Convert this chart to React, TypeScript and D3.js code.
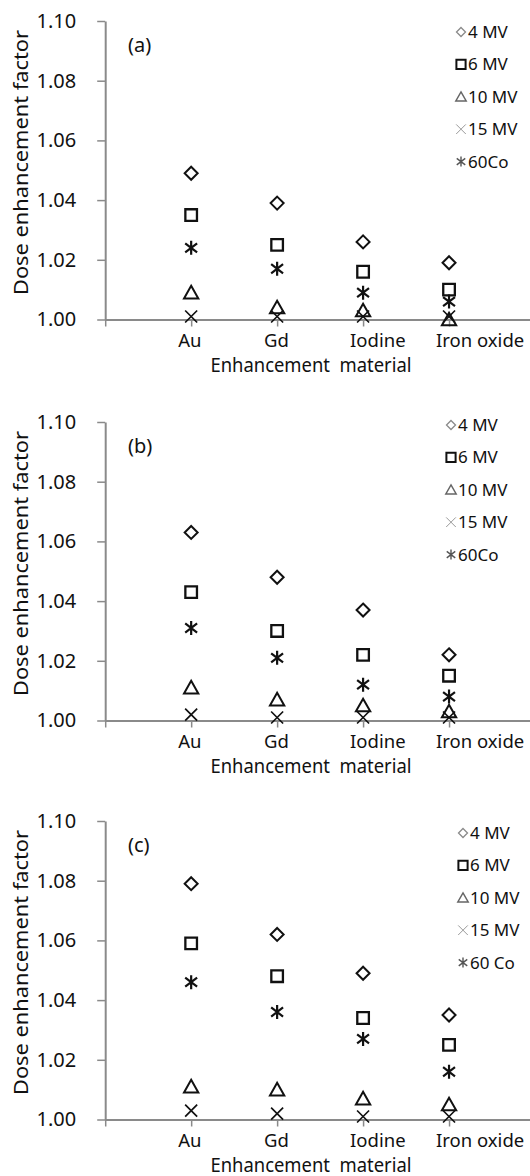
import { useEffect, useRef } from "react";
import * as d3 from "d3";

const categories = ["Au", "Gd", "Iodine", "Iron oxide"];
const yTicks = [1.0, 1.02, 1.04, 1.06, 1.08, 1.1];
const panelLabels = ["(a)", "(b)", "(c)"];
const legendAB = ["4 MV", "6 MV", "10 MV", "15 MV", "60Co"];
const legendC = ["4 MV", "6 MV", "10 MV", "15 MV", "60 Co"];

// panel (a)
const a4MV = [1.049, 1.039, 1.026, 1.019];
const a6MV = [1.035, 1.025, 1.016, 1.01];
const a10MV = [1.009, 1.004, 1.003, 1.0];
const a15MV = [1.001, 1.001, 1.001, 1.001];
const aCo60 = [1.024, 1.017, 1.009, 1.006];

// panel (b)
const b4MV = [1.063, 1.048, 1.037, 1.022];
const b6MV = [1.043, 1.03, 1.022, 1.015];
const b10MV = [1.011, 1.007, 1.005, 1.003];
const b15MV = [1.002, 1.001, 1.001, 1.001];
const bCo60 = [1.031, 1.021, 1.012, 1.008];

// panel (c)
const c4MV = [1.079, 1.062, 1.049, 1.035];
const c6MV = [1.059, 1.048, 1.034, 1.025];
const c10MV = [1.011, 1.01, 1.007, 1.005];
const c15MV = [1.003, 1.002, 1.001, 1.001];
const cCo60 = [1.046, 1.036, 1.027, 1.016];

const shapes = ["diamond", "square", "triangle", "x", "star"];

function symbolPath(type, r) {
  switch (type) {
    case "diamond":
      return `M0,${-r}L${r},0L0,${r}L${-r},0Z`;
    case "square":
      return `M${-r},${-r}h${2 * r}v${2 * r}h${-2 * r}Z`;
    case "triangle":
      return `M0,${-r}L${r * 1.05},${r * 0.85}L${-r * 1.05},${r * 0.85}Z`;
    case "x":
      return `M${-r},${-r}L${r},${r}M${-r},${r}L${r},${-r}`;
    default:
      return `M${-r * 0.85},${-r * 0.65}L${r * 0.85},${r * 0.65}M${-r * 0.85},${r * 0.65}L${r * 0.85},${-r * 0.65}M0,${-r}V${r}`;
  }
}

const plotSize = { diamond: 6.5, square: 5.8, triangle: 6.8, x: 6, star: 7 };
const plotStroke = { diamond: 2, square: 2.3, triangle: 2, x: 1.7, star: 2.2 };
const legendSize = { diamond: 4.5, square: 4.6, triangle: 5, x: 4.8, star: 5 };
const legendStroke = { diamond: 1.3, square: 2, triangle: 1.4, x: 1, star: 1.4 };
const legendColor = { diamond: "#8a8a8a", square: "#111", triangle: "#666", x: "#9a9a9a", star: "#555" };

export default function App() {
  const svgRef = useRef(null);

  useEffect(() => {
    const width = 530;
    const height = 1176;
    const svg = d3.select(svgRef.current).attr("width", width).attr("height", height);
    svg.selectAll("*").remove();

    const font = "'Noto Sans', 'DejaVu Sans', sans-serif";
    const axisColor = "#8a8a8a";
    const textColor = "#111";

    const panels = [
      { series: [a4MV, a6MV, a10MV, a15MV, aCo60], legend: legendAB, top: 0, legendX: 461, legendY: 32 },
      { series: [b4MV, b6MV, b10MV, b15MV, bCo60], legend: legendAB, top: 401, legendX: 451, legendY: 24 },
      { series: [c4MV, c6MV, c10MV, c15MV, cCo60], legend: legendC, top: 800, legendX: 463, legendY: 33 },
    ];

    const x = d3.scaleLinear().domain([0, 5]).range([105.2, 535]);
    const y = d3.scaleLinear().domain([1.0, 1.1]).range([319.5, 21]);

    panels.forEach((p, pi) => {
      const g = svg.append("g").attr("transform", `translate(0,${p.top})`);

      // y axis
      const yAxis = g
        .append("g")
        .attr("transform", `translate(${x(0)},0)`)
        .call(
          d3
            .axisLeft(y)
            .tickValues(yTicks)
            .tickFormat(d3.format(".2f"))
            .tickSize(8)
            .tickSizeOuter(0)
            .tickPadding(21)
        );
      yAxis.select(".domain").attr("stroke", axisColor).attr("stroke-width", 2);
      yAxis.selectAll(".tick line").attr("stroke", axisColor).attr("stroke-width", 1.5);
      yAxis
        .selectAll(".tick text")
        .attr("fill", textColor)
        .style("font-family", font)
        .style("font-size", "20px");

      // x axis
      const xAxis = g
        .append("g")
        .attr("transform", `translate(0,${y(1.0)})`)
        .call(
          d3
            .axisBottom(x)
            .tickValues([0, 1, 2, 3, 4])
            .tickFormat(() => "")
            .tickSize(7)
            .tickSizeOuter(0)
        );
      xAxis.select(".domain").attr("stroke", axisColor).attr("stroke-width", 2);
      xAxis.selectAll(".tick line").attr("stroke", axisColor).attr("stroke-width", 1.5);

      // category labels
      g.selectAll(".cat")
        .data(categories)
        .enter()
        .append("text")
        .attr("x", (d, i) => x(i + 1) - 13)
        .attr("y", y(1.0) + 27)
        .attr("fill", textColor)
        .style("font-family", font)
        .style("font-size", "18.5px")
        .text((d) => d);

      // axis titles
      g.append("text")
        .attr("x", 311)
        .attr("y", y(1.0) + 52)
        .attr("text-anchor", "middle")
        .attr("textLength", 201)
        .attr("lengthAdjust", "spacingAndGlyphs")
        .attr("fill", textColor)
        .style("font-family", font)
        .style("font-size", "19px")
        .text("Enhancement\u00a0\u00a0material");

      g.append("text")
        .attr("transform", `translate(28,162.5) rotate(-90)`)
        .attr("text-anchor", "middle")
        .attr("textLength", 265)
        .attr("lengthAdjust", "spacingAndGlyphs")
        .attr("fill", textColor)
        .style("font-family", font)
        .style("font-size", "20px")
        .text("Dose enhancement factor");

      // panel label
      g.append("text")
        .attr("x", 128)
        .attr("y", 52)
        .attr("fill", textColor)
        .style("font-family", font)
        .style("font-size", "20px")
        .text(panelLabels[pi]);

      // markers
      p.series.forEach((vals, si) => {
        const type = shapes[si];
        g.selectAll(`.m${si}`)
          .data(vals)
          .enter()
          .append("path")
          .attr("transform", (d, i) => `translate(${x(i + 1)},${y(d)})`)
          .attr("d", symbolPath(type, plotSize[type]))
          .attr("fill", "none")
          .attr("stroke", "#111")
          .attr("stroke-width", plotStroke[type]);
      });

      // legend
      const lg = g.append("g").attr("transform", `translate(${p.legendX},${p.legendY})`);
      p.legend.forEach((name, li) => {
        const type = shapes[li];
        const row = lg.append("g").attr("transform", `translate(0,${li * 32.4})`);
        row
          .append("path")
          .attr("d", symbolPath(type, legendSize[type]))
          .attr("fill", "none")
          .attr("stroke", legendColor[type])
          .attr("stroke-width", legendStroke[type]);
        row
          .append("text")
          .attr("x", 7)
          .attr("y", 6)
          .attr("fill", textColor)
          .style("font-family", font)
          .style("font-size", "17px")
          .text(name);
      });
    });
  }, []);

  return (
    <div style={{ position: "absolute", left: 0, top: 0 }}>
      <svg ref={svgRef} style={{ display: "block", background: "#fff" }}></svg>
    </div>
  );
}
